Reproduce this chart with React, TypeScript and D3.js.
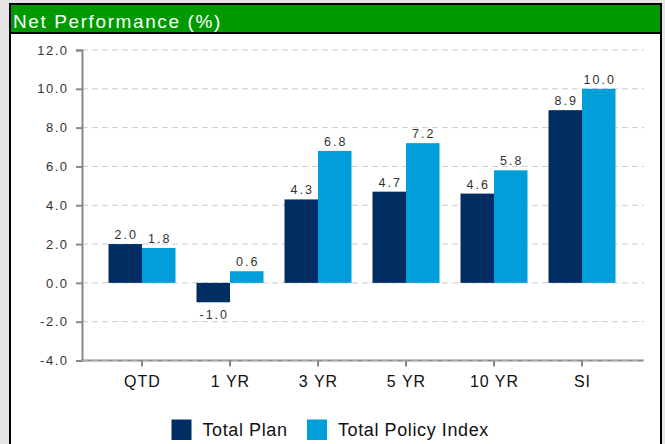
import React, { useEffect, useRef } from "react";
import * as d3 from "d3";

const categories = ["QTD", "1 YR", "3 YR", "5 YR", "10 YR", "SI"];
const totalPlan = [2.0, -1.0, 4.3, 4.7, 4.6, 8.9];
const policyIndex = [1.8, 0.6, 6.8, 7.2, 5.8, 10.0];
const seriesNames = ["Total Plan", "Total Policy Index"];
const yTicks = [-4, -2, 0, 2, 4, 6, 8, 10, 12];

const colors = ["#002D62", "#009FDA"];

// hyphen instead of unicode minus, like the original
const fmt = (v: number) => d3.format(".1f")(v).replace("\u2212", "-");

const App = () => {
  const svgRef = useRef<SVGSVGElement>(null);

  useEffect(() => {
    const svg = d3.select(svgRef.current);
    svg.selectAll("*").remove();
    const width = 665;
    const height = 444;
    const font = "'Liberation Sans', Arial, sans-serif";

    // frame
    svg.append("rect").attr("width", width).attr("height", height).attr("fill", "#e6e6e6");
    svg
      .append("rect")
      .attr("x", 10)
      .attr("y", 4)
      .attr("width", 651)
      .attr("height", height)
      .attr("fill", "#fff")
      .attr("stroke", "#000")
      .attr("stroke-width", 2);
    svg.append("rect").attr("x", 11).attr("y", 5).attr("width", 649).attr("height", 27).attr("fill", "#009900");
    svg.append("line").attr("x1", 10).attr("x2", 661).attr("y1", 33).attr("y2", 33).attr("stroke", "#000").attr("stroke-width", 2);
    svg
      .append("text")
      .attr("x", 13)
      .attr("y", 28)
      .attr("fill", "#fff")
      .style("font-family", font)
      .style("font-size", "19px")
      .style("letter-spacing", "1.6px")
      .text("Net Performance (%)");

    const left = 82;
    const right = 644;
    const y = d3.scaleLinear().domain([-4, 12]).range([360.5, 50]);
    const x0 = d3.scaleBand().domain(categories).range([98, 626]);
    const x1 = d3.scaleBand().domain(seriesNames).range([0, 67]);
    const groupOffset = (x0.bandwidth() - 67) / 2;

    // grid
    svg
      .append("g")
      .selectAll("line")
      .data(yTicks)
      .join("line")
      .attr("x1", left)
      .attr("x2", right)
      .attr("y1", (d) => y(d))
      .attr("y2", (d) => y(d))
      .attr("stroke", "#cccccc")
      .attr("stroke-dasharray", "6,4");

    // y axis
    const yAxis = d3
      .axisLeft(y)
      .tickValues(yTicks)
      .tickSize(6)
      .tickFormat((d) => fmt(d as number));
    const yg = svg.append("g").attr("transform", `translate(${left},0)`).call(yAxis);
    yg.select(".domain").attr("stroke", "#888").attr("stroke-width", 2);
    yg.selectAll(".tick line").attr("stroke", "#888").attr("stroke-width", 2);
    yg.selectAll("text")
      .attr("x", -13.5)
      .attr("fill", "#333")
      .style("font-family", font)
      .style("font-size", "13px")
      .style("letter-spacing", "1.5px");

    // bars
    const data = categories.map((c, i) => ({ c, vals: [totalPlan[i], policyIndex[i]] }));
    const groups = svg
      .append("g")
      .selectAll("g")
      .data(data)
      .join("g")
      .attr("transform", (d) => `translate(${(x0(d.c) as number) + groupOffset},0)`);
    groups
      .selectAll("rect")
      .data((d) => d.vals.map((v, j) => ({ v, s: seriesNames[j], j })))
      .join("rect")
      .attr("x", (d) => x1(d.s) as number)
      .attr("width", x1.bandwidth())
      .attr("y", (d) => y(Math.max(0, d.v)))
      .attr("height", (d) => Math.abs(y(d.v) - y(0)))
      .attr("fill", (d) => colors[d.j]);
    groups
      .selectAll("text")
      .data((d) => d.vals.map((v, j) => ({ v, s: seriesNames[j], j })))
      .join("text")
      .attr("x", (d) => (x1(d.s) as number) + x1.bandwidth() / 2 + 1)
      .attr("y", (d) => (d.v >= 0 ? y(d.v) - 5 : y(d.v) + 16.5))
      .attr("text-anchor", "middle")
      .attr("fill", "#333")
      .style("font-family", font)
      .style("font-size", "12.5px")
      .style("letter-spacing", "2px")
      .text((d) => fmt(d.v));

    // x axis
    svg
      .append("line")
      .attr("x1", left - 1)
      .attr("x2", right)
      .attr("y1", y(-4))
      .attr("y2", y(-4))
      .attr("stroke", "#888")
      .attr("stroke-width", 2);
    svg
      .append("line")
      .attr("x1", left)
      .attr("x2", right)
      .attr("y1", y(-4))
      .attr("y2", y(-4))
      .attr("stroke", "#aaa")
      .attr("stroke-dasharray", "6,4");
    const xg = svg.append("g");
    xg.selectAll("line")
      .data(categories)
      .join("line")
      .attr("x1", (d) => (x0(d) as number) + x0.bandwidth() / 2)
      .attr("x2", (d) => (x0(d) as number) + x0.bandwidth() / 2)
      .attr("y1", y(-4))
      .attr("y2", y(-4) + 6)
      .attr("stroke", "#888")
      .attr("stroke-width", 2);
    xg.selectAll("text")
      .data(categories)
      .join("text")
      .attr("x", (d) => (x0(d) as number) + x0.bandwidth() / 2 + 0.5)
      .attr("y", 387)
      .attr("text-anchor", "middle")
      .attr("fill", "#111")
      .style("font-family", font)
      .style("font-size", "16px")
      .style("letter-spacing", "1px")
      .text((d) => d);

    // legend
    const legend = svg.append("g");
    const legendX = [171.5, 307];
    seriesNames.forEach((s, i) => {
      legend
        .append("rect")
        .attr("x", legendX[i])
        .attr("y", 419.5)
        .attr("width", 20)
        .attr("height", 20.5)
        .attr("fill", colors[i]);
      legend
        .append("text")
        .attr("x", legendX[i] + 31)
        .attr("y", 436)
        .attr("fill", "#111")
        .style("font-family", font)
        .style("font-size", "18px")
        .style("letter-spacing", "0.6px")
        .text(s);
    });
  }, []);

  return (
    <svg
      ref={svgRef}
      width={665}
      height={444}
      style={{ position: "absolute", left: 0, top: 0, display: "block" }}
    ></svg>
  );
};

export default App;
